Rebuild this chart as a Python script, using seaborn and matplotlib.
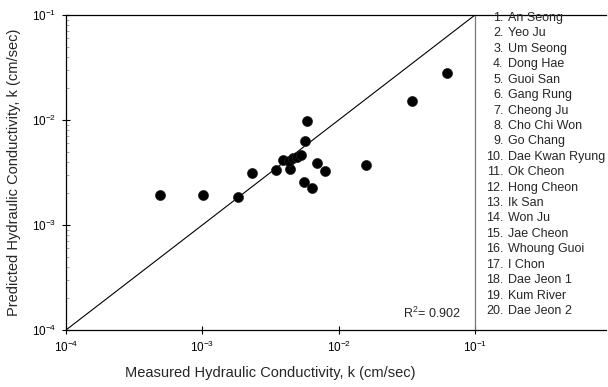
import matplotlib
matplotlib.use("Agg")
import matplotlib.pyplot as plt
import matplotlib.ticker as mticker
import seaborn as sns
import pandas as pd
import numpy as np

sites = ["An Seong", "Yeo Ju", "Um Seong", "Dong Hae", "Guoi San", "Gang Rung",
         "Cheong Ju", "Cho Chi Won", "Go Chang", "Dae Kwan Ryung", "Ok Cheon",
         "Hong Cheon", "Ik San", "Won Ju", "Jae Cheon", "Whoung Guoi", "I Chon",
         "Dae Jeon 1", "Kum River", "Dae Jeon 2"]

measured = [4.90e-4, 1.01e-3, 1.83e-3, 2.32e-3, 3.48e-3, 3.91e-3, 4.40e-3,
            4.33e-3, 4.59e-3, 4.91e-3, 5.25e-3, 5.66e-3, 5.86e-3, 6.89e-3,
            7.94e-3, 5.57e-3, 6.38e-3, 1.59e-2, 3.46e-2, 6.24e-2]
predicted = [1.91e-3, 1.91e-3, 1.85e-3, 3.13e-3, 3.34e-3, 4.16e-3, 3.45e-3,
             4.07e-3, 4.30e-3, 4.45e-3, 4.64e-3, 6.35e-3, 9.78e-3, 3.89e-3,
             3.27e-3, 2.57e-3, 2.25e-3, 3.73e-3, 1.52e-2, 2.80e-2]

line_k = [1e-4, 1e-1]
r2_text = "R$^2$= 0.902"
tick_vals = [1e-4, 1e-3, 1e-2, 1e-1]
tick_labels = ["10$^{-4}$", "10$^{-3}$", "10$^{-2}$", "10$^{-1}$"]

sns.set_theme(style="white")
plt.rcParams['font.family'] = ['Liberation Sans', 'DejaVu Sans']
plt.rcParams['mathtext.fontset'] = 'custom'
plt.rcParams['mathtext.rm'] = 'Liberation Sans'
plt.rcParams['mathtext.it'] = 'Liberation Sans'

W, H = 608, 387
fig = plt.figure(figsize=(W / 100, H / 100), dpi=100)
x0, x1 = 66, 606
y0, y1 = 15, 330
ax = fig.add_axes([x0 / W, 1 - y1 / H, (x1 - x0) / W, (y1 - y0) / H])

df = pd.DataFrame({"measured": measured, "predicted": predicted})
line_df = pd.DataFrame({"x": line_k, "y": line_k})

sns.lineplot(data=line_df, x="x", y="y", ax=ax, color="black", linewidth=0.8)
sns.scatterplot(data=df, x="measured", y="predicted", ax=ax, s=52,
                color="black", edgecolor="#222222", linewidth=0.5, zorder=3)

ax.set_xscale("log")
ax.set_yscale("log")
px_per_dec = (475 - x0) / 3.0
xmax = 10 ** (-4 + (x1 - x0) / px_per_dec)
ax.set_xlim(1e-4, xmax)
ax.set_ylim(1e-4, 1e-1)

ax.xaxis.set_major_locator(mticker.FixedLocator(tick_vals))
ax.xaxis.set_major_formatter(mticker.FixedFormatter(tick_labels))
ax.yaxis.set_major_locator(mticker.FixedLocator(tick_vals))
ax.yaxis.set_major_formatter(mticker.FixedFormatter(tick_labels))
ax.xaxis.set_minor_locator(mticker.NullLocator())
ax.yaxis.set_minor_locator(mticker.LogLocator(base=10, subs=np.arange(2, 10)))
ax.yaxis.set_minor_formatter(mticker.NullFormatter())

ax.tick_params(axis="both", which="major", direction="inout", length=6, width=0.8,
               labelsize=8.5, colors="black", left=True, bottom=True, pad=4)
ax.tick_params(axis="y", which="minor", direction="in", length=2, width=0.5,
               left=True, colors="#888888")

for s in ["left", "top", "bottom"]:
    ax.spines[s].set_color("black")
    ax.spines[s].set_linewidth(0.9)
ax.spines["right"].set_visible(False)

ax.axvline(1e-1, color="#777777", linewidth=0.9, zorder=1)

ax.set_xlabel("Measured Hydraulic Conductivity, k (cm/sec)", fontsize=10.5)
ax.set_ylabel("Predicted Hydraulic Conductivity, k (cm/sec)", fontsize=10.5, labelpad=8)
ax.xaxis.set_label_coords((270 - x0) / (x1 - x0), -(366 - y1) / (y1 - y0))

# R^2 annotation
fig.text(461 / W, 1 - 313 / H, r2_text, ha="right", va="center", fontsize=9)

# site list
top_line, bot_line = 18, 311
step = (bot_line - top_line) / (len(sites) - 1)
for i, name in enumerate(sites):
    yy = 1 - (top_line + i * step) / H
    fig.text(503.5 / W, yy, f"{i + 1}.", ha="right", va="center", fontsize=9)
    fig.text(507.5 / W, yy, name, ha="left", va="center", fontsize=9)

fig.savefig("out.png", dpi=100)
